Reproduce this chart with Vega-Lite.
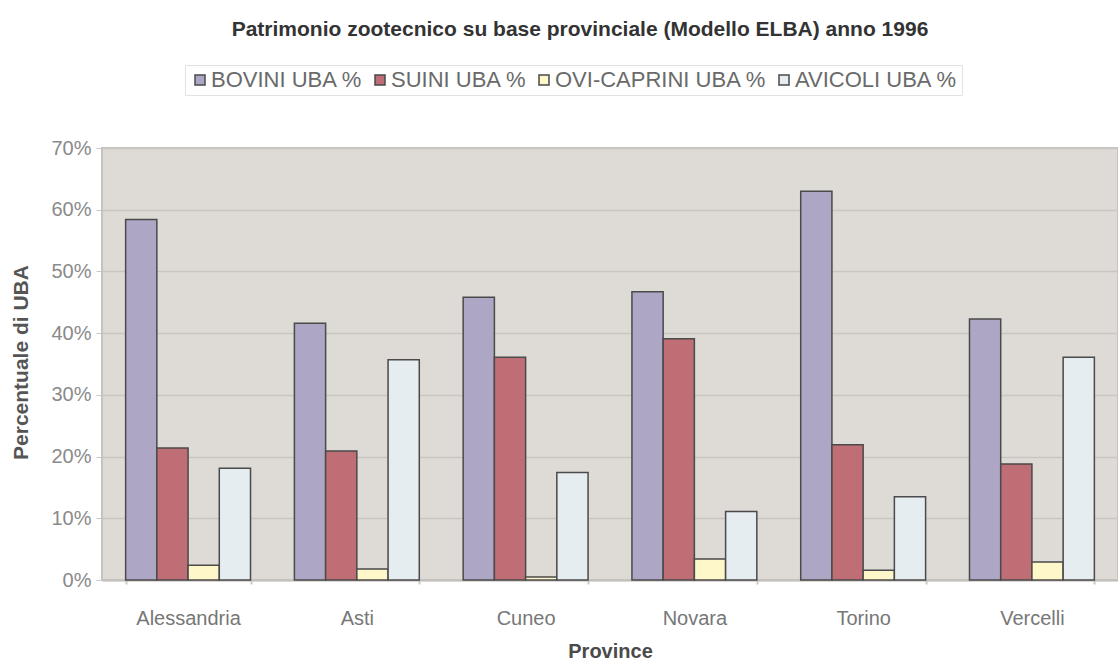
{
  "$schema": "https://vega.github.io/schema/vega-lite/v6.json",
  "autosize": "none",
  "width": 1016,
  "height": 432,
  "padding": {"left": 102, "top": 148, "right": 0, "bottom": 83},
  "background": "#ffffff",
  "title": {
    "text": "Patrimonio zootecnico su base provinciale (Modello ELBA) anno 1996",
    "font": "Liberation Sans",
    "fontSize": 21,
    "fontWeight": "bold",
    "color": "#333333",
    "anchor": "middle",
    "frame": "group",
    "dx": -30,
    "offset": 25
  },
  "data": {
    "values": [
      {"provincia": "Alessandria", "specie": "BOVINI UBA %", "quota": 0.584},
      {"provincia": "Alessandria", "specie": "SUINI UBA %", "quota": 0.214},
      {"provincia": "Alessandria", "specie": "OVI-CAPRINI UBA %", "quota": 0.024},
      {"provincia": "Alessandria", "specie": "AVICOLI UBA %", "quota": 0.181},
      {"provincia": "Asti", "specie": "BOVINI UBA %", "quota": 0.416},
      {"provincia": "Asti", "specie": "SUINI UBA %", "quota": 0.209},
      {"provincia": "Asti", "specie": "OVI-CAPRINI UBA %", "quota": 0.018},
      {"provincia": "Asti", "specie": "AVICOLI UBA %", "quota": 0.357},
      {"provincia": "Cuneo", "specie": "BOVINI UBA %", "quota": 0.458},
      {"provincia": "Cuneo", "specie": "SUINI UBA %", "quota": 0.361},
      {"provincia": "Cuneo", "specie": "OVI-CAPRINI UBA %", "quota": 0.005},
      {"provincia": "Cuneo", "specie": "AVICOLI UBA %", "quota": 0.174},
      {"provincia": "Novara", "specie": "BOVINI UBA %", "quota": 0.467},
      {"provincia": "Novara", "specie": "SUINI UBA %", "quota": 0.391},
      {"provincia": "Novara", "specie": "OVI-CAPRINI UBA %", "quota": 0.034},
      {"provincia": "Novara", "specie": "AVICOLI UBA %", "quota": 0.111},
      {"provincia": "Torino", "specie": "BOVINI UBA %", "quota": 0.630},
      {"provincia": "Torino", "specie": "SUINI UBA %", "quota": 0.219},
      {"provincia": "Torino", "specie": "OVI-CAPRINI UBA %", "quota": 0.016},
      {"provincia": "Torino", "specie": "AVICOLI UBA %", "quota": 0.135},
      {"provincia": "Vercelli", "specie": "BOVINI UBA %", "quota": 0.423},
      {"provincia": "Vercelli", "specie": "SUINI UBA %", "quota": 0.188},
      {"provincia": "Vercelli", "specie": "OVI-CAPRINI UBA %", "quota": 0.029},
      {"provincia": "Vercelli", "specie": "AVICOLI UBA %", "quota": 0.361}
    ]
  },
  "mark": {"type": "bar", "stroke": "#4a4a4a", "strokeWidth": 1.5},
  "encoding": {
    "x": {
      "field": "provincia",
      "type": "nominal",
      "sort": null,
      "scale": {"paddingInner": 0.26, "paddingOuter": 0.14},
      "axis": {
        "title": "Province",
        "titleFont": "Liberation Sans",
        "titleFontSize": 20,
        "titleFontWeight": "bold",
        "titleColor": "#4a4a4a",
        "titleY": 61,
        "titleBaseline": "top",
        "labelAngle": 0,
        "labelFont": "Liberation Sans",
        "labelFontSize": 20,
        "labelColor": "#777777",
        "labelPadding": 24,
        "domainColor": "#c4c0bc",
        "domainWidth": 2,
        "tickBand": "extent",
        "tickColor": "#c8c8c8",
        "tickSize": 4,
        "tickWidth": 2
      }
    },
    "xOffset": {
      "field": "specie",
      "type": "nominal",
      "sort": ["BOVINI UBA %", "SUINI UBA %", "OVI-CAPRINI UBA %", "AVICOLI UBA %"],
      "scale": {"paddingInner": 0, "paddingOuter": 0}
    },
    "y": {
      "field": "quota",
      "type": "quantitative",
      "scale": {"domain": [0, 0.7], "nice": false},
      "axis": {
        "title": "Percentuale di UBA",
        "titleFont": "Liberation Sans",
        "titleFontSize": 21,
        "titleFontWeight": "bold",
        "titleColor": "#555555",
        "titleX": -81,
        "titleY": 214,
        "titleAngle": -90,
        "titleBaseline": "middle",
        "titleAlign": "center",
        "values": [0, 0.1, 0.2, 0.3, 0.4, 0.5, 0.6, 0.7],
        "format": ".0%",
        "labelFont": "Liberation Sans",
        "labelFontSize": 20,
        "labelColor": "#8a8a8a",
        "labelPadding": 5,
        "domain": false,
        "tickColor": "#c8c8c8",
        "tickSize": 6,
        "gridColor": "#c9c5c1",
        "gridWidth": 1.5
      }
    },
    "fill": {
      "field": "specie",
      "type": "nominal",
      "sort": ["BOVINI UBA %", "SUINI UBA %", "OVI-CAPRINI UBA %", "AVICOLI UBA %"],
      "scale": {
        "domain": ["BOVINI UBA %", "SUINI UBA %", "OVI-CAPRINI UBA %", "AVICOLI UBA %"],
        "range": ["#ada7c5", "#bf6e75", "#fdf7c9", "#e6edf0"]
      },
      "legend": {
        "title": null,
        "orient": "none",
        "legendX": 83,
        "legendY": -83,
        "direction": "horizontal",
        "columns": 4,
        "padding": 4,
        "strokeColor": "#e2e2e2",
        "fillColor": "#ffffff",
        "symbolType": "square",
        "symbolSize": 100,
        "symbolStrokeColor": "#4a4a4a",
        "symbolStrokeWidth": 1.5,
        "symbolOpacity": 1,
        "labelFont": "Liberation Sans",
        "labelFontSize": 22,
        "labelColor": "#6a6a6a",
        "labelOffset": 0,
        "labelLimit": 400,
        "columnPadding": 6
      }
    }
  },
  "config": {
    "view": {"fill": "#dedad6", "stroke": "#c6c2be", "strokeWidth": 2}
  }
}
